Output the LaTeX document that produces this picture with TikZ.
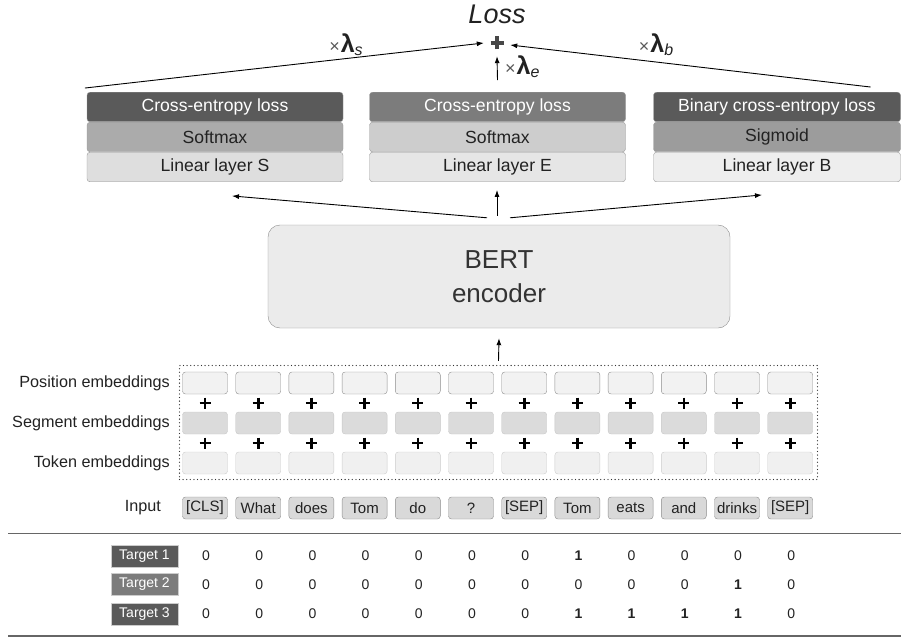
\documentclass[tikz,border=0pt]{standalone}
\usepackage{fontspec}
\setmainfont{Liberation Sans}
\usetikzlibrary{arrows.meta}
\definecolor{darkhead}{HTML}{5A5A5A}
\definecolor{midhead}{HTML}{7C7C7C}
\definecolor{softS}{HTML}{ABABAB}
\definecolor{softE}{HTML}{CDCDCD}
\definecolor{sigB}{HTML}{9C9C9C}
\definecolor{linS}{HTML}{DEDEDE}
\definecolor{linE}{HTML}{E6E6E6}
\definecolor{linB}{HTML}{EEEEEE}
\definecolor{txtdark}{HTML}{222222}
\newcommand{\lossweight}[1]{{\fontsize{18}{18}\selectfont\color{black!65}×}\kern1pt{\fontsize{25}{25}\selectfont\bfseries λ}{\fontsize{16}{16}\selectfont\itshape\raisebox{-3pt}{#1}}}
\begin{document}
\begin{tikzpicture}[x=1pt,y=-1pt,
  layer/.style={draw=black!40, rounded corners=3pt, minimum height=29.5pt,
    inner sep=0pt, text=txtdark, font=\fontsize{17.6}{19}\selectfont},
  headbox/.style={layer, text=white},
  arr/.style={-{Latex[length=7pt,width=5pt]}, line width=0.9pt, black},
  embpos/.style={draw=black!45, fill=black!5, rounded corners=3pt,
    minimum width=45pt, minimum height=22pt, inner sep=0pt},
  embseg/.style={draw=black!22, fill=black!14, rounded corners=3pt,
    minimum width=45pt, minimum height=22pt, inner sep=0pt},
  embtok/.style={draw=black!20, fill=black!6, rounded corners=3pt,
    minimum width=45pt, minimum height=22pt, inner sep=0pt},
  tokbox/.style={draw=black!45, fill=black!15, rounded corners=3pt,
    minimum width=45pt, minimum height=22pt, inner sep=0pt, text=txtdark,
    font=\fontsize{15}{16}\selectfont},
  rowlabel/.style={anchor=east, text=txtdark, inner sep=0pt,
    font=\fontsize{16.2}{17}\selectfont},
  targetbox/.style={draw=black!20, minimum width=67pt, minimum height=22pt,
    inner sep=0pt, text=white, font=\fontsize{14}{15}\selectfont},
  num/.style={text=txtdark, inner sep=0pt, font=\fontsize{14}{15}\selectfont},
  weight/.style={text=txtdark, inner sep=0pt}]
\useasboundingbox (0,0) rectangle (901,639);

% ---- total loss ----
\node[text=txtdark, font=\fontsize{27}{29}\selectfont\itshape] (loss) at (497,14) {Loss};
\node[minimum size=26pt, inner sep=0pt] (plus) at (497,43) {};
\draw[line width=3.8pt, black!72] ([xshift=-6.5pt]plus.center) -- ([xshift=6.5pt]plus.center)
  ([yshift=-6.5pt]plus.center) -- ([yshift=6.5pt]plus.center);

% ---- task heads ----
\node[headbox, fill=darkhead, minimum width=256pt] (ceS) at (215,107) {Cross-entropy loss};
\node[layer, fill=softS, minimum width=256pt] (smS) at (215,137) {Softmax};
\node[layer, fill=linS, minimum width=256pt] (linS) at (215,167) {Linear layer S};

\node[headbox, fill=midhead, minimum width=256pt] (ceE) at (497.5,107) {Cross-entropy loss};
\node[layer, fill=softE, minimum width=256pt] (smE) at (497.5,137) {Softmax};
\node[layer, fill=linE, minimum width=256pt] (linE) at (497.5,167) {Linear layer E};

\node[headbox, fill=darkhead, minimum width=247pt] (ceB) at (777,107) {Binary cross-entropy loss};
\node[layer, fill=sigB, minimum width=247pt] (sgB) at (777,137) {Sigmoid};
\node[layer, fill=linB, minimum width=247pt] (linB) at (777,167) {Linear layer B};

% weighted losses into the sum
\draw[arr] ([shift={(-2,-4)}]ceS.north west) -- (plus.west);
\draw[arr] ([shift={(-30,-5)}]ceB.north east) -- ([yshift=-2pt]plus.east);
\draw[arr] ([yshift=12pt]ceE.north) -- (plus.south);
\node[weight, anchor=center] (ws) at (346,45) {\lossweight{s}};
\node[weight, anchor=west] (we) at (505,67) {\lossweight{e}};
\node[weight, anchor=center] (wb) at (656,45) {\lossweight{b}};

% ---- encoder ----
\node[draw=black!45, fill=black!8, rounded corners=12pt, minimum width=462pt,
  minimum height=103pt, inner sep=0pt, align=center, text=black!80,
  font=\fontsize{26}{34}\selectfont] (bert) at (499,276.5) {BERT\\encoder};

\draw[arr] ([shift={(-12,-7)}]bert.north) -- ([shift={(17,14)}]linS.south);
\draw[arr] ([shift={(-2,-9)}]bert.north) -- ([shift={(-0.5,8)}]linE.south);
\draw[arr] ([shift={(11,-7)}]bert.north) -- ([shift={(-15,13)}]linB.south);

% ---- input embeddings ----
\node[draw=black!80, dash pattern=on 0pt off 3.6pt, line cap=round, line width=1.3pt,
  minimum width=638pt, minimum height=114pt, inner sep=0pt] (emb) at (498.5,422.5) {};
\draw[arr] ([yshift=4pt]emb.north) -- ([yshift=-10pt]bert.south);

\node[rowlabel] (lpos) at (170,383) {Position embeddings};
\node[rowlabel] (lseg) at (170,423) {Segment embeddings};
\node[rowlabel] (ltok) at (170,463) {Token embeddings};
\node[rowlabel] (linp) at (161,508) {Input};

\foreach \t [count=\i from 0] in {{[CLS]},What,does,Tom,do,?,{[SEP]},Tom,eats,and,drinks,{[SEP]}} {
  \pgfmathsetmacro{\cx}{205+53.2*\i}
  \node[embpos] (p\i) at (\cx,383) {};
  \node[embseg] (s\i) at (\cx,423) {};
  \node[embtok] (t\i) at (\cx,463) {};
  \node[tokbox] (in\i) at (\cx,508) {\t};
  \draw[line width=2.6pt, black] (\cx-5.5,403) -- (\cx+5.5,403) (\cx,397.5) -- (\cx,408.5);
  \draw[line width=2.6pt, black] (\cx-5.5,443) -- (\cx+5.5,443) (\cx,437.5) -- (\cx,448.5);
}

% ---- targets ----
\draw[black!60, line width=1.1pt] (8,533.5) -- (901,533.5);
\draw[black!60, line width=1.1pt] (8,636) -- (901,636);

\node[targetbox, fill=darkhead] (tg1) at (144.5,556) {Target 1};
\node[targetbox, fill=midhead] (tg2) at (144.5,584.5) {Target 2};
\node[targetbox, fill=darkhead] (tg3) at (144.5,614) {Target 3};

\foreach \v [count=\i from 0] in {0,0,0,0,0,0,0,1,0,0,0,0}
  \node[num] (ra\i) at (206+53.2*\i,556) {\ifnum\v=1\bfseries\fi\v};
\foreach \v [count=\i from 0] in {0,0,0,0,0,0,0,0,0,0,1,0}
  \node[num] (rb\i) at (206+53.2*\i,584.5) {\ifnum\v=1\bfseries\fi\v};
\foreach \v [count=\i from 0] in {0,0,0,0,0,0,0,1,1,1,1,0}
  \node[num] (rc\i) at (206+53.2*\i,614) {\ifnum\v=1\bfseries\fi\v};
\end{tikzpicture}
\end{document}
